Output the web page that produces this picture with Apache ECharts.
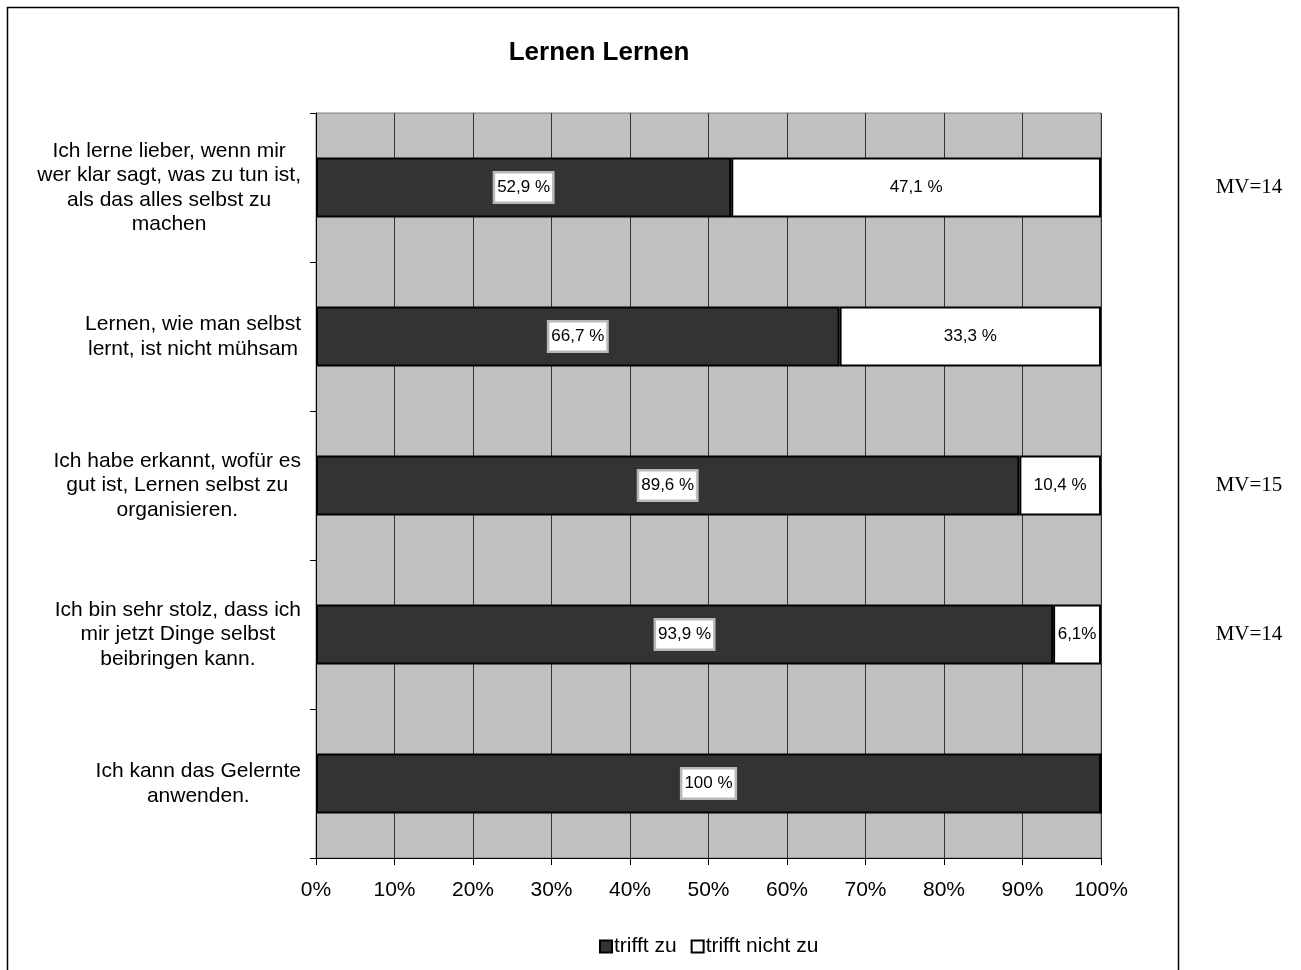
<!DOCTYPE html>
<html>
<head>
<meta charset="utf-8">
<script src="https://cdn.jsdelivr.net/npm/echarts@6/dist/echarts.min.js"></script>
<style>html,body{margin:0;padding:0;background:#fff;}#c{width:1301px;height:970px;}</style>
</head>
<body>
<div id="c"></div>
<script>
const categories = [
  "Ich lerne lieber, wenn mir\nwer klar sagt, was zu tun ist,\nals das alles selbst zu\nmachen",
  "Lernen, wie man selbst\nlernt, ist nicht mühsam",
  "Ich habe erkannt, wofür es\ngut ist, Lernen selbst zu\norganisieren.",
  "Ich bin sehr stolz, dass ich\nmir jetzt Dinge selbst\nbeibringen kann.",
  "Ich kann das Gelernte\nanwenden."
];
const trifftZu = [52.9, 66.7, 89.6, 93.9, 100];
const trifftNichtZu = [47.1, 33.3, 10.4, 6.1, 0];
const labelsZu = ["52,9 %", "66,7 %", "89,6 %", "93,9 %", "100 %"];
const labelsNicht = ["47,1 %", "33,3 %", "10,4 %", "6,1%", ""];
const mvTexts = ["MV=14", "", "MV=15", "MV=14", ""];
const xTicks = [0, 10, 20, 30, 40, 50, 60, 70, 80, 90, 100];

const chart = echarts.init(document.getElementById('c'));
const font = 'Liberation Sans, Arial, sans-serif';
const option = {
  animation: false,
  backgroundColor: '#ffffff',
  title: {
    text: 'Lernen Lernen',
    left: 594, top: 35, textAlign: 'center',
    textStyle: {fontFamily: font, fontSize: 26, fontWeight: 'bold', color: '#000'}
  },
  legend: {
    bottom: 8, left: 594,
    itemWidth: 12, itemHeight: 12, itemGap: 14,
    icon: 'rect',
    textStyle: {fontFamily: font, fontSize: 21, color: '#000', padding: [0,0,0,-3]},
    data: ['trifft zu', 'trifft nicht zu']
  },
  grid: {
    left: 316, right: 200, top: 113, bottom: 112,
    show: true, backgroundColor: '#C0C0C0', borderColor: '#808080', borderWidth: 1
  },
  xAxis: {
    type: 'value', min: 0, max: 100, interval: 10,
    axisLine: {show: true, lineStyle: {color: '#000', width: 1}},
    axisTick: {show: true, length: 7, lineStyle: {color: '#000'}},
    axisLabel: {fontFamily: font, fontSize: 21, color: '#000', margin: 22,
      formatter: v => xTicks.includes(v) ? v + '%' : ''},
    splitLine: {show: true, lineStyle: {color: '#333', width: 1}}
  },
  yAxis: {
    type: 'category', inverse: true, data: categories,
    axisLine: {show: true, lineStyle: {color: '#000', width: 1}},
    axisTick: {show: true, length: 6, lineStyle: {color: '#000'}},
    axisLabel: {color: '#000', margin: 15, align: 'right',
      formatter: v => v.split('\n').map(s => '{c|' + s + '}').join('\n'),
      rich: {c: {fontFamily: font, fontSize: 21, color: '#000', lineHeight: 24.5, align: 'center'}}
    },
    splitLine: {show: false}
  },
  series: [
    {
      name: 'trifft zu', type: 'bar', stack: 's', barWidth: 60,
      data: trifftZu,
      itemStyle: {color: '#333333', borderColor: '#000', borderWidth: 2},
      label: {
        show: true, position: 'inside',
        formatter: p => labelsZu[p.dataIndex],
        fontFamily: font, fontSize: 17, color: '#000',
        backgroundColor: '#fff', borderColor: '#b8b8b8', borderWidth: 2.5,
        padding: [6, 2, 5, 2]
      }
    },
    {
      name: 'trifft nicht zu', type: 'bar', stack: 's', barWidth: 60,
      data: trifftNichtZu,
      itemStyle: {color: '#ffffff', borderColor: '#000', borderWidth: 2},
      label: {
        show: true, position: 'inside',
        formatter: p => labelsNicht[p.dataIndex],
        fontFamily: font, fontSize: 17, color: '#000'
      }
    }
  ],
  graphic: []
};
chart.setOption(option);

const g = [{
  type: 'rect', silent: true, z: -10,
  shape: {x: 7.5, y: 7.5, width: 1171, height: 1000},
  style: {fill: 'none', stroke: '#000', lineWidth: 1.5}
}];
mvTexts.forEach((t, i) => {
  if (!t) return;
  const y = chart.convertToPixel({yAxisIndex: 0}, categories[i]);
  g.push({
    type: 'text', silent: true, x: 1249, y: y,
    style: {text: t, fontFamily: 'Liberation Serif, Times New Roman, serif', fontSize: 21,
      fill: '#000', align: 'center', verticalAlign: 'middle'}
  });
});
chart.setOption({graphic: g});
</script>
</body>
</html>
